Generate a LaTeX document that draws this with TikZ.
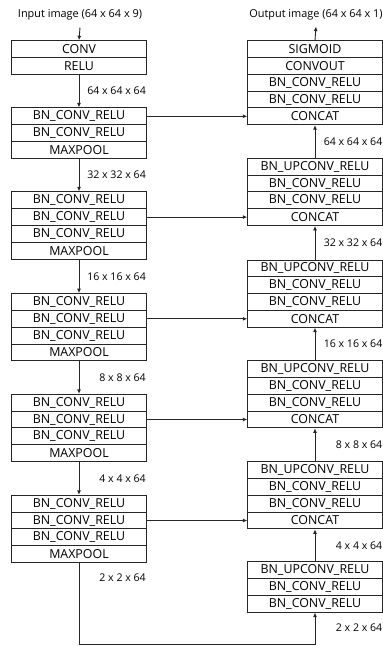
\documentclass[tikz,border=0pt]{standalone}
\usepackage{fontspec}
\setmainfont{Open Sans}
\usetikzlibrary{arrows.meta}
\begin{document}
\begin{tikzpicture}[x=1pt,y=-1pt,
  row/.style={draw=black!85, line width=0.9pt, minimum height=16.8pt, inner sep=0pt, font=\fontsize{12.4}{13}\selectfont},
  lrow/.style={row, minimum width=135.5pt},
  rrow/.style={row, minimum width=134.5pt},
  dim/.style={font=\fontsize{10.6}{11}\selectfont, inner sep=0pt, anchor=east},
  ttl/.style={font=\fontsize{10.9}{12}\selectfont, inner sep=0pt},
  arr/.style={draw=black!85, line width=0.9pt, -{Latex[length=4.5pt,width=4pt]}},
  ln/.style={draw=black!85, line width=0.9pt}]
\useasboundingbox (0,0) rectangle (383,646);
% titles
\node[ttl] (in) at (80,15) {Input image (64 x 64 x 9)};
\node[ttl] (out) at (316,15) {Output image (64 x 64 x 1)};
% left column
\node[lrow] (c1) at (79,49.1) {CONV};
\node[lrow] (c2) at (79,65.9) {RELU};
\node[lrow] (l1a) at (79,116.3) {BN\_CONV\_RELU};
\node[lrow] (l1b) at (79,133.1) {BN\_CONV\_RELU};
\node[lrow] (l1c) at (79,149.9) {MAXPOOL};
\node[lrow] (l2a) at (79,200.3) {BN\_CONV\_RELU};
\node[lrow] (l2b) at (79,217.1) {BN\_CONV\_RELU};
\node[lrow] (l2c) at (79,233.9) {BN\_CONV\_RELU};
\node[lrow] (l2d) at (79,250.7) {MAXPOOL};
\node[lrow] (l3a) at (79,302.0) {BN\_CONV\_RELU};
\node[lrow] (l3b) at (79,318.8) {BN\_CONV\_RELU};
\node[lrow] (l3c) at (79,335.6) {BN\_CONV\_RELU};
\node[lrow] (l3d) at (79,352.4) {MAXPOOL};
\node[lrow] (l4a) at (79,402.7) {BN\_CONV\_RELU};
\node[lrow] (l4b) at (79,419.5) {BN\_CONV\_RELU};
\node[lrow] (l4c) at (79,436.3) {BN\_CONV\_RELU};
\node[lrow] (l4d) at (79,453.1) {MAXPOOL};
\node[lrow] (l5a) at (79,503.7) {BN\_CONV\_RELU};
\node[lrow] (l5b) at (79,520.5) {BN\_CONV\_RELU};
\node[lrow] (l5c) at (79,537.3) {BN\_CONV\_RELU};
\node[lrow] (l5d) at (79,554.1) {MAXPOOL};
% right column
\node[rrow] (r1a) at (315,49.1) {SIGMOID};
\node[rrow] (r1b) at (315,65.9) {CONVOUT};
\node[rrow] (r1c) at (315,82.7) {BN\_CONV\_RELU};
\node[rrow] (r1d) at (315,99.5) {BN\_CONV\_RELU};
\node[rrow] (r1e) at (315,116.3) {CONCAT};
\node[rrow] (r2a) at (315,166.7) {BN\_UPCONV\_RELU};
\node[rrow] (r2b) at (315,183.5) {BN\_CONV\_RELU};
\node[rrow] (r2c) at (315,200.3) {BN\_CONV\_RELU};
\node[rrow] (r2d) at (315,217.1) {CONCAT};
\node[rrow] (r3a) at (315,268.4) {BN\_UPCONV\_RELU};
\node[rrow] (r3b) at (315,285.2) {BN\_CONV\_RELU};
\node[rrow] (r3c) at (315,302.0) {BN\_CONV\_RELU};
\node[rrow] (r3d) at (315,318.8) {CONCAT};
\node[rrow] (r4a) at (315,369.1) {BN\_UPCONV\_RELU};
\node[rrow] (r4b) at (315,385.9) {BN\_CONV\_RELU};
\node[rrow] (r4c) at (315,402.7) {BN\_CONV\_RELU};
\node[rrow] (r4d) at (315,419.5) {CONCAT};
\node[rrow] (r5a) at (315,470.1) {BN\_UPCONV\_RELU};
\node[rrow] (r5b) at (315,486.9) {BN\_CONV\_RELU};
\node[rrow] (r5c) at (315,503.7) {BN\_CONV\_RELU};
\node[rrow] (r5d) at (315,520.5) {CONCAT};
\node[rrow] (r6a) at (315,570.1) {BN\_UPCONV\_RELU};
\node[rrow] (r6b) at (315,586.9) {BN\_CONV\_RELU};
\node[rrow] (r6c) at (315,603.7) {BN\_CONV\_RELU};
% dimension labels
\node[dim] (d1) at (146,91) {64 x 64 x 64};
\node[dim] (d2) at (146,175) {32 x 32 x 64};
\node[dim] (d3) at (146,276.4) {16 x 16 x 64};
\node[dim] (d4) at (146,377.5) {8 x 8 x 64};
\node[dim] (d5) at (146,478.4) {4 x 4 x 64};
\node[dim] (d6) at (146,578) {2 x 2 x 64};
\node[dim] (e1) at (382.5,141.5) {64 x 64 x 64};
\node[dim] (e2) at (382.5,242.8) {32 x 32 x 64};
\node[dim] (e3) at (382.5,344) {16 x 16 x 64};
\node[dim] (e4) at (382.5,444.8) {8 x 8 x 64};
\node[dim] (e5) at (382.5,545.3) {4 x 4 x 64};
\node[dim] (e6) at (382.5,628) {2 x 2 x 64};
% vertical arrows
\draw[arr] ([yshift=-7pt]in.south) -- (c1.north);
\draw[arr] (c2.south) -- (l1a.north);
\draw[arr] (l1c.south) -- (l2a.north);
\draw[arr] (l2d.south) -- (l3a.north);
\draw[arr] (l3d.south) -- (l4a.north);
\draw[arr] (l4d.south) -- (l5a.north);
\draw[arr] (r1a.north) -- ([yshift=-6pt]out.south);
\draw[arr] (r2a.north) -- (r1e.south);
\draw[arr] (r3a.north) -- (r2d.south);
\draw[arr] (r4a.north) -- (r3d.south);
\draw[arr] (r5a.north) -- (r4d.south);
\draw[arr] (r6a.north) -- (r5d.south);
% skip connections
\draw[arr] (l1a.east) -- (r1e.west);
\draw[arr] (l2b.east) -- (r2d.west);
\draw[arr] (l3b.east) -- (r3d.west);
\draw[arr] (l4b.east) -- (r4d.west);
\draw[arr] (l5b.east) -- (r5d.west);
% bottom
\coordinate (bot) at (0,644);
\draw[arr] (l5d.south) -- (l5d.south |- bot) -- (r6c.south |- bot) -- (r6c.south);
\end{tikzpicture}
\end{document}
